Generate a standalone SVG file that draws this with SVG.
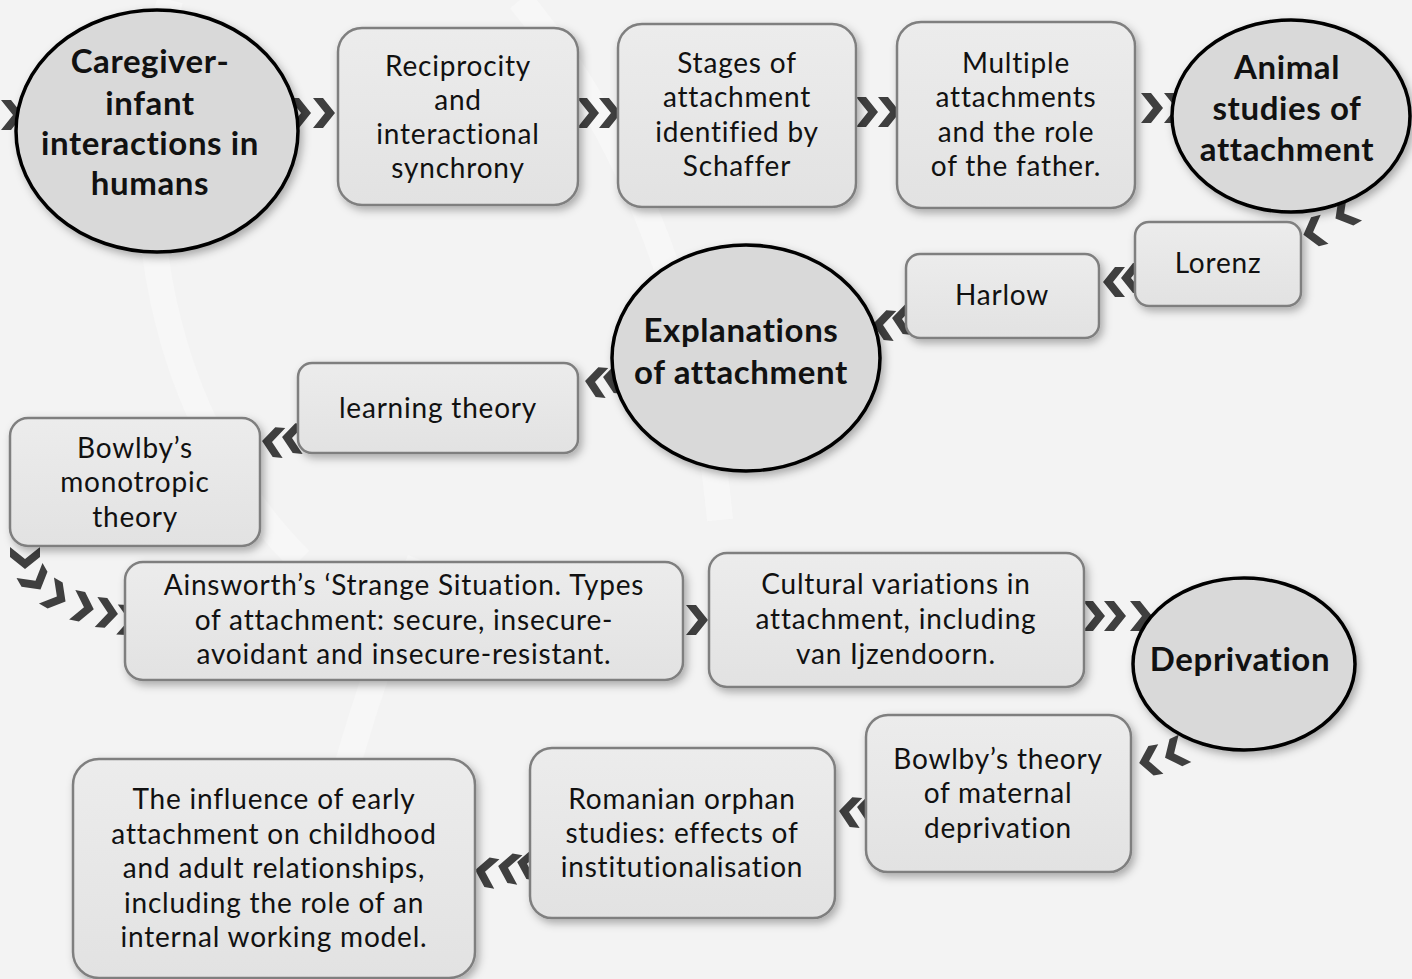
<svg xmlns="http://www.w3.org/2000/svg" width="1412" height="979" viewBox="0 0 1412 979">
<defs>
<style>
.box{fill:url(#boxg);stroke:#7f7f7f;stroke-width:2.5;filter:url(#sh)}
.ell{fill:#d9d9d9;stroke:#000;stroke-width:3.5;filter:url(#sh)}
.t{font-family:Lato,"Open Sans","DejaVu Sans",sans-serif;font-size:28px;letter-spacing:0.8px;fill:#111;text-anchor:middle}
.b{font-family:Lato,"Open Sans","DejaVu Sans",sans-serif;font-size:33px;letter-spacing:0.6px;font-weight:bold;fill:#111;text-anchor:middle}
.ch{fill:#3f3f3f}
</style>
<linearGradient id="boxg" x1="0" y1="0" x2="0" y2="1">
<stop offset="0" stop-color="#ececec"/>
<stop offset="1" stop-color="#e2e2e2"/>
</linearGradient>
<filter id="sh" x="-10%" y="-10%" width="125%" height="130%">
<feDropShadow dx="3" dy="4" stdDeviation="4" flood-color="#000" flood-opacity="0.3"/>
</filter>
<polygon id="chev" points="-11,-15 -1,-15 11,0 -1,15 -11,15 1,0"/>
</defs>
<rect width="1412" height="979" fill="#f3f3f3"/>
<g fill="none" stroke="#fafafa" stroke-width="26" opacity="0.6">
<path d="M170 0 C120 200 160 420 300 560"/>
<path d="M520 0 C620 120 700 300 720 520"/>
<path d="M420 560 C360 700 320 850 300 979"/>
</g>
<g id="connectors">
<use href="#chev" class="ch" transform="translate(12,115)"/>
<use href="#chev" class="ch" transform="translate(300,113)"/>
<use href="#chev" class="ch" transform="translate(324,113)"/>
<use href="#chev" class="ch" transform="translate(588,113)"/>
<use href="#chev" class="ch" transform="translate(610,113)"/>
<use href="#chev" class="ch" transform="translate(867,112)"/>
<use href="#chev" class="ch" transform="translate(889,112)"/>
<use href="#chev" class="ch" transform="translate(1152,108)"/>
<use href="#chev" class="ch" transform="translate(1175,108)"/>
<use href="#chev" class="ch" transform="translate(1345,213) rotate(150)"/>
<use href="#chev" class="ch" transform="translate(1314,232) rotate(165)"/>
<use href="#chev" class="ch" transform="translate(1132,278) rotate(180)"/>
<use href="#chev" class="ch" transform="translate(1114,282) rotate(180)"/>
<use href="#chev" class="ch" transform="translate(903,319) rotate(185)"/>
<use href="#chev" class="ch" transform="translate(884,325) rotate(185)"/>
<use href="#chev" class="ch" transform="translate(614,378) rotate(185)"/>
<use href="#chev" class="ch" transform="translate(596,382) rotate(185)"/>
<use href="#chev" class="ch" transform="translate(293,438) rotate(185)"/>
<use href="#chev" class="ch" transform="translate(273,442) rotate(185)"/>
<use href="#chev" class="ch" transform="translate(25,558) rotate(90)"/>
<use href="#chev" class="ch" transform="translate(35,580) rotate(60)"/>
<use href="#chev" class="ch" transform="translate(56,596) rotate(30)"/>
<use href="#chev" class="ch" transform="translate(83,607) rotate(12)"/>
<use href="#chev" class="ch" transform="translate(107,613) rotate(5)"/>
<use href="#chev" class="ch" transform="translate(128,620) rotate(3)"/>
<use href="#chev" class="ch" transform="translate(697,620)"/>
<use href="#chev" class="ch" transform="translate(1094,616)"/>
<use href="#chev" class="ch" transform="translate(1115,616)"/>
<use href="#chev" class="ch" transform="translate(1141,616)"/>
<use href="#chev" class="ch" transform="translate(1175,753) rotate(155)"/>
<use href="#chev" class="ch" transform="translate(1150,761) rotate(170)"/>
<use href="#chev" class="ch" transform="translate(868,808) rotate(185)"/>
<use href="#chev" class="ch" transform="translate(850,812) rotate(185)"/>
<use href="#chev" class="ch" transform="translate(528,864) rotate(190)"/>
<use href="#chev" class="ch" transform="translate(509,868) rotate(190)"/>
<use href="#chev" class="ch" transform="translate(486,872) rotate(190)"/>
</g>
<g id="n-caregiver">
<ellipse class="ell" cx="157" cy="131" rx="141" ry="121"/>
<text class="b"><tspan x="150" y="73">Caregiver-</tspan><tspan x="150" y="115">infant</tspan><tspan x="150" y="155">interactions in</tspan><tspan x="150" y="195">humans</tspan></text>
</g>
<g id="n-reciprocity">
<rect class="box" x="338" y="28" width="240" height="177" rx="24"/>
<text class="t"><tspan x="458" y="76">Reciprocity</tspan><tspan x="458" y="110">and</tspan><tspan x="458" y="144">interactional</tspan><tspan x="458" y="178">synchrony</tspan></text>
</g>
<g id="n-stages">
<rect class="box" x="618" y="24" width="238" height="183" rx="24"/>
<text class="t"><tspan x="737" y="73">Stages of</tspan><tspan x="737" y="107">attachment</tspan><tspan x="737" y="142">identified by</tspan><tspan x="737" y="176">Schaffer</tspan></text>
</g>
<g id="n-multiple">
<rect class="box" x="897" y="22" width="238" height="186" rx="24"/>
<text class="t"><tspan x="1016" y="73">Multiple</tspan><tspan x="1016" y="107">attachments</tspan><tspan x="1016" y="142">and the role</tspan><tspan x="1016" y="176">of the father.</tspan></text>
</g>
<g id="n-animal">
<ellipse class="ell" cx="1291" cy="116" rx="119" ry="96"/>
<text class="b"><tspan x="1287" y="79">Animal</tspan><tspan x="1287" y="120">studies of</tspan><tspan x="1287" y="161">attachment</tspan></text>
</g>
<g id="n-lorenz">
<rect class="box" x="1135" y="222" width="166" height="84" rx="14"/>
<text class="t" x="1218" y="273">Lorenz</text>
</g>
<g id="n-harlow">
<rect class="box" x="906" y="254" width="193" height="84" rx="14"/>
<text class="t" x="1002" y="305">Harlow</text>
</g>
<g id="n-explanations">
<ellipse class="ell" cx="746" cy="358" rx="134" ry="113"/>
<text class="b"><tspan x="741" y="342">Explanations</tspan><tspan x="741" y="384">of attachment</tspan></text>
</g>
<g id="n-learning">
<rect class="box" x="298" y="363" width="280" height="90" rx="14"/>
<text class="t" x="438" y="418">learning theory</text>
</g>
<g id="n-monotropic">
<rect class="box" x="10" y="418" width="250" height="128" rx="18"/>
<text class="t"><tspan x="135" y="458">Bowlby’s</tspan><tspan x="135" y="492">monotropic</tspan><tspan x="135" y="527">theory</tspan></text>
</g>
<g id="n-ainsworth">
<rect class="box" x="125" y="562" width="558" height="118" rx="18"/>
<text class="t"><tspan x="404" y="595">Ainsworth’s ‘Strange Situation. Types</tspan><tspan x="404" y="630">of attachment: secure, insecure-</tspan><tspan x="404" y="664">avoidant and insecure-resistant.</tspan></text>
</g>
<g id="n-cultural">
<rect class="box" x="709" y="553" width="375" height="134" rx="18"/>
<text class="t"><tspan x="896" y="594">Cultural variations in</tspan><tspan x="896" y="629">attachment, including</tspan><tspan x="896" y="664">van Ijzendoorn.</tspan></text>
</g>
<g id="n-deprivation">
<ellipse class="ell" cx="1244" cy="664" rx="111" ry="86"/>
<text class="b" x="1240" y="671">Deprivation</text>
</g>
<g id="n-maternal">
<rect class="box" x="866" y="715" width="265" height="157" rx="22"/>
<text class="t"><tspan x="998" y="769">Bowlby’s theory</tspan><tspan x="998" y="803">of maternal</tspan><tspan x="998" y="838">deprivation</tspan></text>
</g>
<g id="n-romanian">
<rect class="box" x="530" y="748" width="305" height="170" rx="22"/>
<text class="t"><tspan x="682" y="809">Romanian orphan</tspan><tspan x="682" y="843">studies: effects of</tspan><tspan x="682" y="877">institutionalisation</tspan></text>
</g>
<g id="n-influence">
<rect class="box" x="73" y="759" width="402" height="219" rx="26"/>
<text class="t"><tspan x="274" y="809">The influence of early</tspan><tspan x="274" y="844">attachment on childhood</tspan><tspan x="274" y="878">and adult relationships,</tspan><tspan x="274" y="913">including the role of an</tspan><tspan x="274" y="947">internal working model.</tspan></text>
</g>
</svg>
